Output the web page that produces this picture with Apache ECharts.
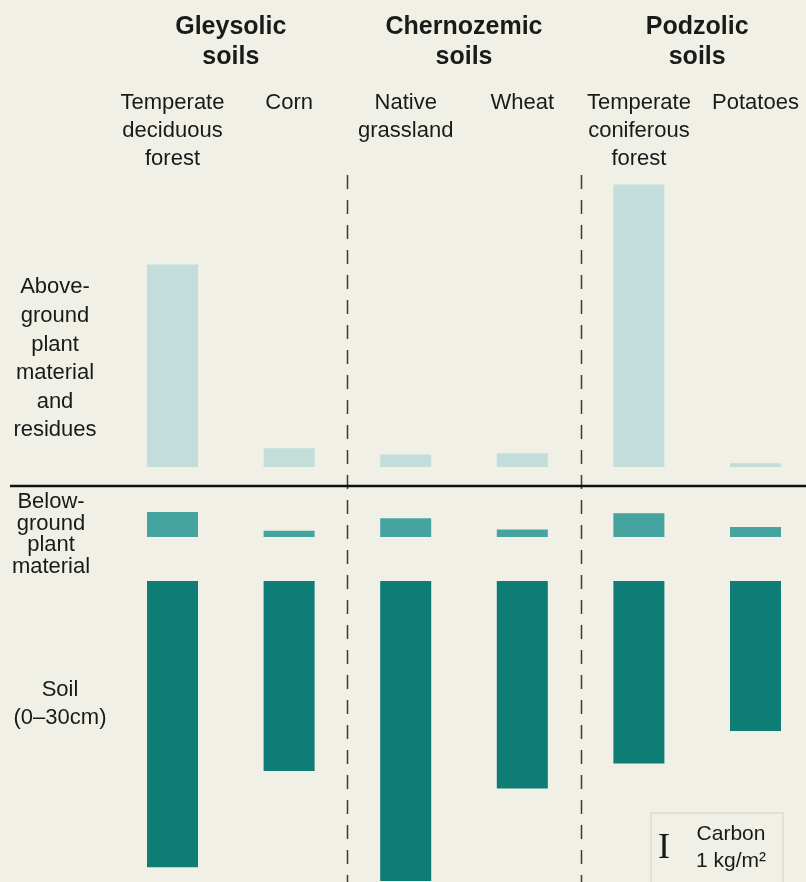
<!DOCTYPE html>
<html><head><meta charset="utf-8">
<script src="https://cdn.jsdelivr.net/npm/echarts@6/dist/echarts.min.js"></script>
<style>html,body{margin:0;padding:0;background:#f0f0e7}#c{width:806px;height:882px}</style>
</head><body><div id="c"></div><script>
// ---- data (kg C / m²) ----
const categories = ['Temperate\ndeciduous\nforest', 'Corn', 'Native\ngrassland', 'Wheat', 'Temperate\nconiferous\nforest', 'Potatoes'];
const groups = ['Gleysolic\nsoils', 'Chernozemic\nsoils', 'Podzolic\nsoils'];
const aboveGround = [8.1, 0.75, 0.5, 0.55, 11.3, 0.15];
const belowGround = [1.0, 0.25, 0.75, 0.3, 0.95, 0.4];
const soil = [11.45, 7.6, 12.0, 8.3, 7.3, 6.0];
const rowLabels = ['Above-\nground\nplant\nmaterial\nand\nresidues', 'Below-\nground\nplant\nmaterial', 'Soil\n(0–30cm)'];
const legendTitle = 'Carbon\n1 kg/m²';

const FONT = '"Liberation Sans", Arial, Helvetica, sans-serif';
const chart = echarts.init(document.getElementById('c'), null, {renderer: 'canvas'});
const gl = 172.5, gw = 583;
const hiddenY = {show: false, axisLine: {show: false}, splitLine: {show: false}, axisTick: {show: false}, axisLabel: {show: false}};
const option = {
  backgroundColor: '#f0f0e7',
  animation: false,
  grid: [
    {left: gl, width: gw, top: 167, height: 300},
    {left: gl, width: gw, top: 487, height: 50},
    {left: gl, width: gw, top: 581, height: 300}
  ],
  xAxis: [
    {type: 'category', gridIndex: 0, data: categories, position: 'top', boundaryGap: false,
     axisLine: {show: false}, axisTick: {show: false},
     axisLabel: {interval: 0, margin: 78, verticalAlign: 'top', lineHeight: 28,
                 fontSize: 22, fontFamily: FONT, color: '#1a1a1a'}},
    {type: 'category', gridIndex: 1, data: categories, boundaryGap: false, show: false},
    {type: 'category', gridIndex: 2, data: categories, boundaryGap: false, show: false}
  ],
  yAxis: [
    Object.assign({type: 'value', gridIndex: 0, min: 0, max: 12}, hiddenY),
    Object.assign({type: 'value', gridIndex: 1, min: 0, max: 2}, hiddenY),
    Object.assign({type: 'value', gridIndex: 2, min: 0, max: 12, inverse: true}, hiddenY)
  ],
  series: [
    {type: 'bar', xAxisIndex: 0, yAxisIndex: 0, data: aboveGround, barWidth: 51,
     itemStyle: {color: '#c3deda'}},
    {type: 'bar', xAxisIndex: 1, yAxisIndex: 1, data: belowGround, barWidth: 51,
     itemStyle: {color: '#45a49f'}},
    {type: 'bar', xAxisIndex: 2, yAxisIndex: 2, data: soil, barWidth: 51,
     itemStyle: {color: '#0e7d76'}}
  ]
};
chart.setOption(option);

// positions derived from the category axis
const cx = categories.map((c, i) => chart.convertToPixel({xAxisIndex: 0}, i));
const graphics = [];
groups.forEach((g, k) => {
  graphics.push({type: 'text', style: {text: g, x: (cx[2*k] + cx[2*k+1]) / 2, y: 12,
    textAlign: 'center', textVerticalAlign: 'top', lineHeight: 30,
    font: 'bold 25px ' + FONT, fill: '#1a1a1a'}});
});
[1, 3].forEach(i => {
  const x = Math.round((cx[i] + cx[i+1]) / 2) + 0.5;
  graphics.push({type: 'line', shape: {x1: x, y1: 175, x2: x, y2: 882},
    style: {stroke: '#3a3a3a', lineWidth: 1.5, lineDash: [14, 11]}});
});
graphics.push({type: 'line', shape: {x1: 10, y1: 486, x2: 806, y2: 486},
  style: {stroke: '#111', lineWidth: 2.5}});
const rowPos = [{x: 55, y: 273, lh: 28.6}, {x: 51, y: 491, lh: 21.7}, {x: 60, y: 676, lh: 28}];
rowLabels.forEach((t, i) => {
  graphics.push({type: 'text', style: {text: t, x: rowPos[i].x, y: rowPos[i].y,
    textAlign: 'center', textVerticalAlign: 'top', lineHeight: rowPos[i].lh,
    font: '22px ' + FONT, fill: '#1a1a1a'}});
});
// legend box
graphics.push({type: 'rect', shape: {x: 651, y: 813, width: 132, height: 80},
  style: {fill: 'none', stroke: '#e0e0d5', lineWidth: 2}});
graphics.push({type: 'text', style: {text: 'I', x: 664, y: 849, textAlign: 'center',
  textVerticalAlign: 'middle', font: '36px "Liberation Serif", "DejaVu Serif", serif', fill: '#1a1a1a'}});
graphics.push({type: 'text', style: {text: legendTitle, x: 731, y: 821, textAlign: 'center',
  textVerticalAlign: 'top', lineHeight: 27, font: '21px ' + FONT, fill: '#1a1a1a'}});
chart.setOption({graphic: graphics});
</script></body></html>
